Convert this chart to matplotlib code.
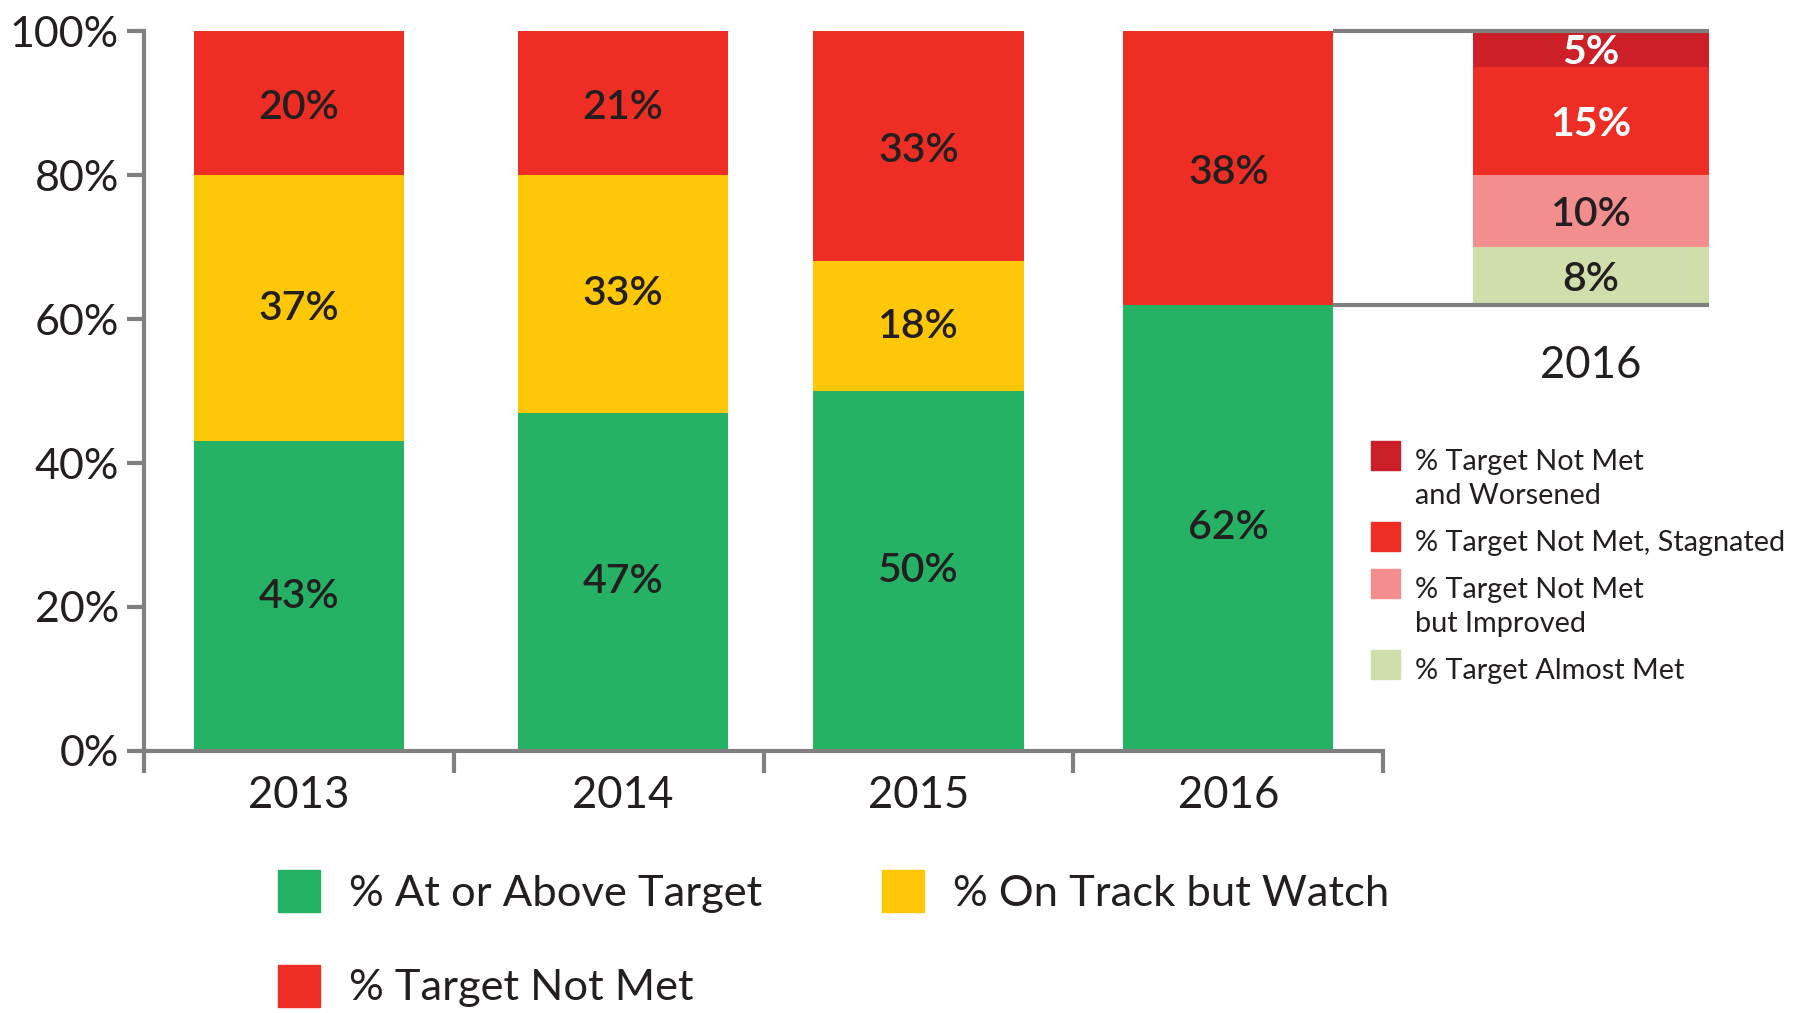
import matplotlib.pyplot as plt
from matplotlib.patches import Patch, Rectangle

plt.rcParams['font.family'] = ['Lato', 'DejaVu Sans']

# data
years = ['2013', '2014', '2015', '2016']
at_or_above = [43, 47, 50, 62]
on_track = [37, 33, 18, 0]
not_met = [20, 21, 33, 38]

breakout_year = '2016'
breakout_values = [8, 10, 15, 5]  # bottom -> top
breakout_labels = ['% Target Almost Met', '% Target Not Met\nbut Improved',
                   '% Target Not Met, Stagnated', '% Target Not Met\nand Worsened']

GREEN = '#25B264'
YELLOW = '#FEC808'
RED = '#EE2E24'
DARK_RED = '#CC1F27'
PINK = '#F38E8E'
PALE = '#D0DEAC'
GRAY = '#808080'
INK = '#231F20'

breakout_colors = [PALE, PINK, RED, DARK_RED]
breakout_text = [INK, INK, 'white', 'white']

W, H = 1807, 1013
fig = plt.figure(figsize=(W / 100, H / 100), dpi=100)
ax = fig.add_axes([144 / W, 1 - 751 / H, (1724 - 144) / W, 720 / H])

# bar centres (the 2014 bar sits a little right of its slot in the original)
x = [0, 1.045, 2, 3]
w = 0.678
mid = [a + b for a, b in zip(at_or_above, on_track)]
ax.bar(x, at_or_above, w, color=GREEN)
ax.bar(x, on_track, w, bottom=at_or_above, color=YELLOW)
ax.bar(x, not_met, w, bottom=mid, color=RED)

lab_kw = dict(ha='center', va='center', fontsize=29.5, color=INK, fontweight='semibold')
for i, xi in enumerate(x):
    ax.text(xi, at_or_above[i] / 2, f'{at_or_above[i]}%', **lab_kw)
    if on_track[i]:
        ax.text(xi, at_or_above[i] + on_track[i] / 2, f'{on_track[i]}%', **lab_kw)
    top = min(mid[i] + not_met[i], 100)
    ax.text(xi, (mid[i] + top) / 2 - 0.6, f'{not_met[i]}%', **lab_kw)

# breakout of the 2016 "not met" bar
bx, bw = 4.171, 0.762
base = at_or_above[-1]
for val, col, tc in zip(breakout_values, breakout_colors, breakout_text):
    ax.bar(bx, val, bw, bottom=base, color=col, clip_on=False)
    ax.text(bx, base + val / 2 - 0.5, f'{val}%', ha='center', va='center', fontsize=29.5,
            color=tc, fontweight='bold' if tc == 'white' else 'semibold')
    base += val
for yy in (at_or_above[-1], 100):
    ax.plot([x[-1] + w / 2, bx + bw / 2], [yy, yy], color=GRAY, lw=3,
            solid_capstyle='butt', clip_on=False)
ax.text(bx, 53.5, breakout_year, ha='center', va='center', fontsize=31.5, color=INK)

ax.set_xlim(-0.5, 4.6)
ax.set_ylim(0, 100)
for s in ('top', 'right'):
    ax.spines[s].set_visible(False)
for s in ('left', 'bottom'):
    ax.spines[s].set_color(GRAY)
    ax.spines[s].set_linewidth(3)
ax.spines['left'].set_bounds(0, 100)
ax.spines['bottom'].set_bounds(-0.5, 3.5)

ax.set_yticks(range(0, 101, 20), [f'{v}%' for v in range(0, 101, 20)])
ax.tick_params(axis='y', length=12, width=3, color=GRAY, labelsize=31,
               labelcolor=INK, pad=6)
ax.set_xticks([i - 0.5 for i in range(len(years) + 1)], [''] * (len(years) + 1))
ax.set_xticks(x, years, minor=True)
ax.tick_params(axis='x', which='major', length=16, width=3, color=GRAY)
ax.tick_params(axis='x', which='minor', length=0, labelsize=31.5, labelcolor=INK, pad=17)

# bottom legend
handles = [Patch(color=GREEN, label='% At or Above Target'),
           Patch(color=RED, label='% Target Not Met'),
           Patch(color=YELLOW, label='% On Track but Watch')]
fig.legend(handles=handles, ncol=2, loc='upper left',
           bbox_to_anchor=(278 / W, 1 - 870 / H), frameon=False, fontsize=31.3,
           handlelength=0.96, handleheight=1.1, handletextpad=0.68,
           columnspacing=2.75, labelspacing=1.2, borderpad=0, borderaxespad=0,
           labelcolor=INK)

# side legend for the breakout
yb = 470
for lab, col in zip(breakout_labels[::-1], breakout_colors[::-1]):
    fig.patches.append(Rectangle((1371 / W, 1 - yb / H), 29 / W, 29 / H,
                                 transform=fig.transFigure, color=col))
    lines = lab.split('\n')
    for k, line in enumerate(lines):
        fig.text(1415 / W, 1 - (yb + 34 * k) / H, line, fontsize=20.8,
                 color=INK, va='baseline')
    yb += 34 * (len(lines) - 1) + 47

fig.savefig('out.png', dpi=100)
